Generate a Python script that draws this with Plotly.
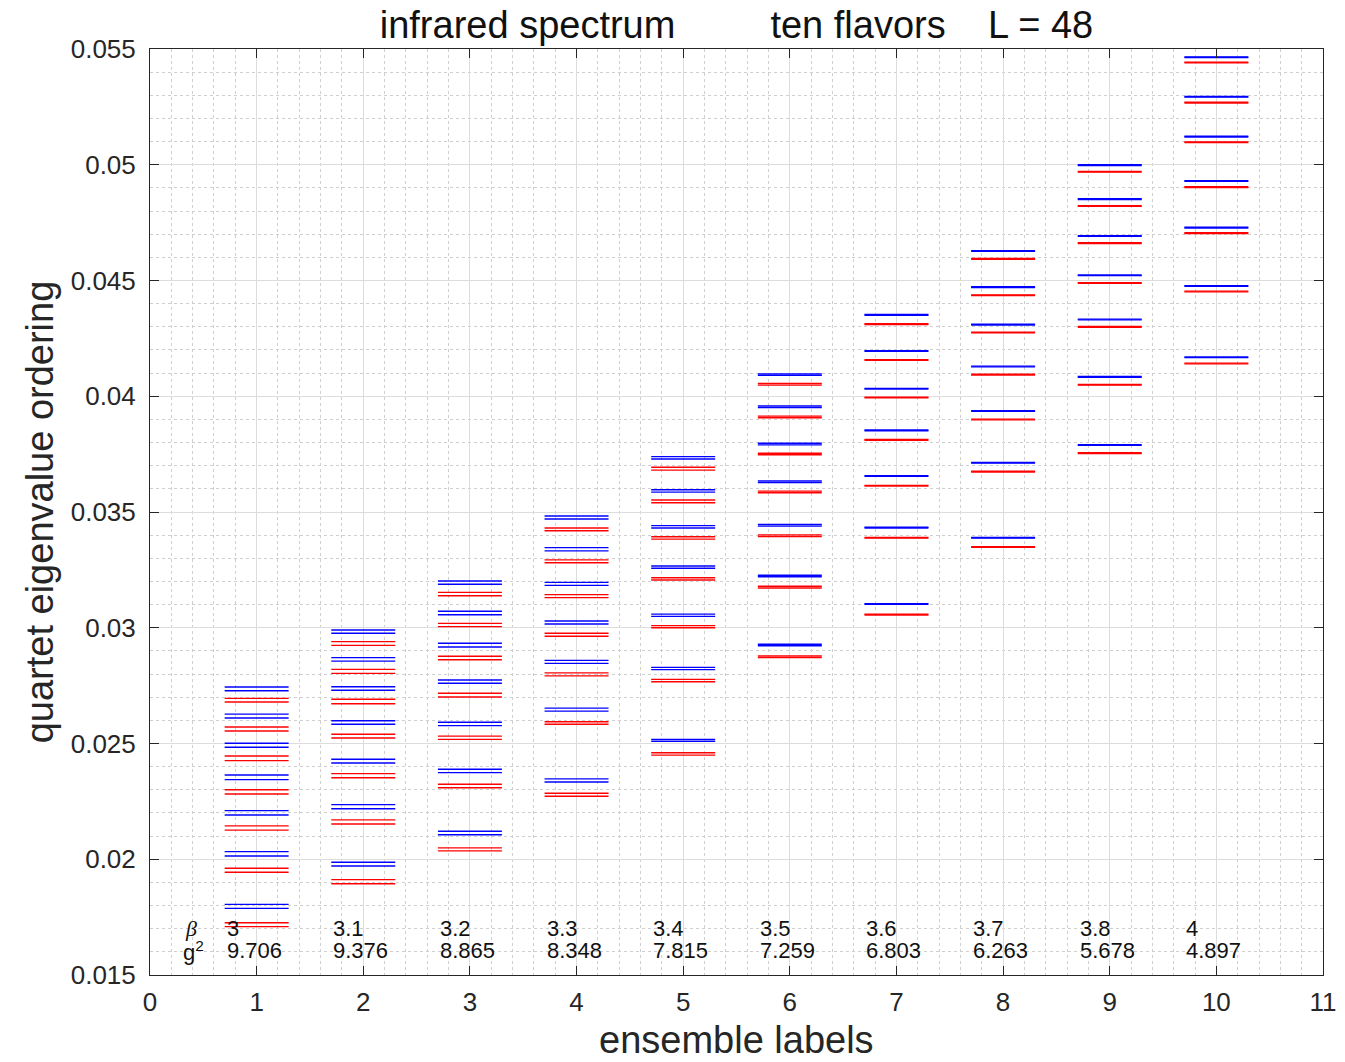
import plotly.graph_objects as go

ensembles = [1, 2, 3, 4, 5, 6, 7, 8, 9, 10]
beta_labels = ["3", "3.1", "3.2", "3.3", "3.4", "3.5", "3.6", "3.7", "3.8", "4"]
g2_labels = ["9.706", "9.376", "8.865", "8.348", "7.815", "7.259", "6.803", "6.263", "5.678", "4.897"]

# eigenvalue lines per ensemble (blue and red quartet members)
blue_e1 = [0.02744, 0.02728, 0.02627, 0.02610, 0.02501, 0.02484, 0.02364, 0.02344, 0.02210, 0.02191, 0.02033, 0.02014, 0.01805, 0.01788]
red_e1 = [0.02695, 0.02679, 0.02571, 0.02554, 0.02446, 0.02426, 0.02300, 0.02282, 0.02144, 0.02126, 0.01961, 0.01944, 0.01726, 0.01709]
blue_e2 = [0.02990, 0.02976, 0.02871, 0.02856, 0.02745, 0.02730, 0.02598, 0.02583, 0.02432, 0.02416, 0.02236, 0.02218, 0.01987, 0.01971]
red_e2 = [0.02940, 0.02924, 0.02820, 0.02803, 0.02691, 0.02672, 0.02540, 0.02524, 0.02370, 0.02352, 0.02170, 0.02152, 0.01912, 0.01894]
blue_e3 = [0.03202, 0.03188, 0.03071, 0.03056, 0.02933, 0.02917, 0.02774, 0.02760, 0.02592, 0.02577, 0.02389, 0.02374, 0.02121, 0.02106]
red_e3 = [0.03153, 0.03138, 0.03019, 0.03005, 0.02877, 0.02862, 0.02717, 0.02701, 0.02532, 0.02518, 0.02324, 0.02309, 0.02049, 0.02036]
blue_e4 = [0.03483, 0.03470, 0.03346, 0.03332, 0.03196, 0.03183, 0.03029, 0.03016, 0.02859, 0.02846, 0.02653, 0.02640, 0.02347, 0.02334]
red_e4 = [0.03431, 0.03419, 0.03293, 0.03281, 0.03143, 0.03130, 0.02976, 0.02963, 0.02805, 0.02792, 0.02594, 0.02583, 0.02285, 0.02272]
blue_e5 = [0.03739, 0.03729, 0.03596, 0.03586, 0.03441, 0.03431, 0.03267, 0.03257, 0.03059, 0.03049, 0.02829, 0.02819, 0.02518, 0.02510]
red_e5 = [0.03693, 0.03681, 0.03552, 0.03540, 0.03393, 0.03383, 0.03216, 0.03206, 0.03009, 0.03000, 0.02777, 0.02767, 0.02460, 0.02450]
blue_e6 = [0.04096, 0.04090, 0.03958, 0.03951, 0.03797, 0.03790, 0.03634, 0.03627, 0.03446, 0.03439, 0.03227, 0.03220, 0.02929, 0.02922]
red_e6 = [0.04055, 0.04048, 0.03914, 0.03907, 0.03754, 0.03747, 0.03590, 0.03583, 0.03401, 0.03394, 0.03179, 0.03172, 0.02878, 0.02871]
blue_e7 = [0.04353, 0.04350, 0.04197, 0.04194, 0.04034, 0.04031, 0.03854, 0.03851, 0.03657, 0.03654, 0.03434, 0.03431, 0.03104, 0.03101]
red_e7 = [0.04313, 0.04310, 0.04158, 0.04155, 0.03996, 0.03993, 0.03813, 0.03810, 0.03615, 0.03612, 0.03390, 0.03387, 0.03058, 0.03055]
blue_e8 = [0.04629, 0.04626, 0.04473, 0.04470, 0.04311, 0.04308, 0.04130, 0.04127, 0.03938, 0.03935, 0.03714, 0.03711, 0.03390, 0.03387]
red_e8 = [0.04595, 0.04592, 0.04438, 0.04435, 0.04277, 0.04274, 0.04095, 0.04092, 0.03901, 0.03898, 0.03676, 0.03673, 0.03350, 0.03347]
blue_e9 = [0.05000, 0.04997, 0.04853, 0.04850, 0.04694, 0.04691, 0.04524, 0.04521, 0.04333, 0.04330, 0.04085, 0.04082, 0.03791, 0.03788]
red_e9 = [0.04971, 0.04968, 0.04823, 0.04820, 0.04663, 0.04660, 0.04491, 0.04488, 0.04301, 0.04298, 0.04051, 0.04048, 0.03756, 0.03753]
blue_e10 = [0.05466, 0.05463, 0.05295, 0.05292, 0.05123, 0.05120, 0.04931, 0.04928, 0.04730, 0.04727, 0.04478, 0.04475, 0.04170, 0.04167]
red_e10 = [0.05443, 0.05440, 0.05270, 0.05267, 0.05099, 0.05096, 0.04905, 0.04902, 0.04706, 0.04703, 0.04454, 0.04451, 0.04143, 0.04140]

blue_sets = [blue_e1, blue_e2, blue_e3, blue_e4, blue_e5, blue_e6, blue_e7, blue_e8, blue_e9, blue_e10]
red_sets = [red_e1, red_e2, red_e3, red_e4, red_e5, red_e6, red_e7, red_e8, red_e9, red_e10]

HALF = 0.3
FONT = "Liberation Sans, Arial, sans-serif"
NB = "\u00a0"


def segments(sets):
    xs, ys = [], []
    for ens, vals in zip(ensembles, sets):
        for v in vals:
            xs += [ens - HALF, ens + HALF, None]
            ys += [v, v, None]
    return xs, ys


fig = go.Figure()
bx, by = segments(blue_sets)
rx, ry = segments(red_sets)
fig.add_trace(go.Scatter(x=rx, y=ry, mode="lines", line=dict(color="rgb(255,0,0)", width=1.4),
                         hoverinfo="skip", showlegend=False))
fig.add_trace(go.Scatter(x=bx, y=by, mode="lines", line=dict(color="rgb(0,0,255)", width=1.4),
                         hoverinfo="skip", showlegend=False))

annotations = []
for ens, b, g in zip(ensembles, beta_labels, g2_labels):
    annotations.append(dict(x=ens - HALF, y=0.01703, xref="x", yref="y", text=b, showarrow=False,
                            xanchor="left", yanchor="middle", font=dict(size=22, color="#111", family=FONT)))
    annotations.append(dict(x=ens - HALF, y=0.01604, xref="x", yref="y", text=g, showarrow=False,
                            xanchor="left", yanchor="middle", font=dict(size=22, color="#111", family=FONT)))
annotations.append(dict(x=0.31, y=0.01703, xref="x", yref="y", text="<i>β</i>", showarrow=False,
                        xanchor="left", yanchor="middle",
                        font=dict(size=22, color="#111", family="Liberation Serif, Times New Roman, serif")))
annotations.append(dict(x=0.29, y=0.01604, xref="x", yref="y", text="g<sup>2</sup>", showarrow=False,
                        xanchor="left", yanchor="middle", font=dict(size=22, color="#111", family=FONT)))
# x-axis title
annotations.append(dict(x=0.5, y=-0.095, xref="paper", yref="paper", text="ensemble labels", showarrow=False,
                        xanchor="center", yanchor="bottom", font=dict(size=38, color="#262626", family=FONT)))

title_text = "infrared spectrum" + NB * 9 + "ten flavors" + NB * 4 + "L = 48"

axis_common = dict(
    showline=True, linecolor="#262626", linewidth=1, mirror="ticks",
    ticks="inside", ticklen=9, tickcolor="#262626", tickwidth=1.2,
    showgrid=True, gridcolor="#dcdcdc", gridwidth=1, zeroline=False, automargin=False,
    tickfont=dict(size=26, color="#262626", family=FONT),
)

fig.update_layout(
    width=1329, height=1046,
    margin=dict(l=142, r=14, t=41, b=79),
    paper_bgcolor="white", plot_bgcolor="white",
    annotations=annotations,
    title=dict(text=title_text, x=0.5, xref="paper", xanchor="center",
               y=1 - 17 / 1046, yref="container", yanchor="middle",
               font=dict(size=38, color="#111", family=FONT)),
    xaxis=dict(range=[0, 11], tick0=0, dtick=1, ticklabelstandoff=4,
               minor=dict(dtick=0.2, showgrid=True, griddash="dot", gridcolor="#cfcfcf", gridwidth=1),
               **axis_common),
    yaxis=dict(range=[0.015, 0.055], tick0=0.015, dtick=0.005, tickformat="~g", ticklabelstandoff=8,
               minor=dict(dtick=0.001, showgrid=True, griddash="dot", gridcolor="#cfcfcf", gridwidth=1),
               title=dict(text="quartet eigenvalue ordering", font=dict(size=38, color="#262626", family=FONT), standoff=5),
               **axis_common),
)

fig.write_html("out.html")
